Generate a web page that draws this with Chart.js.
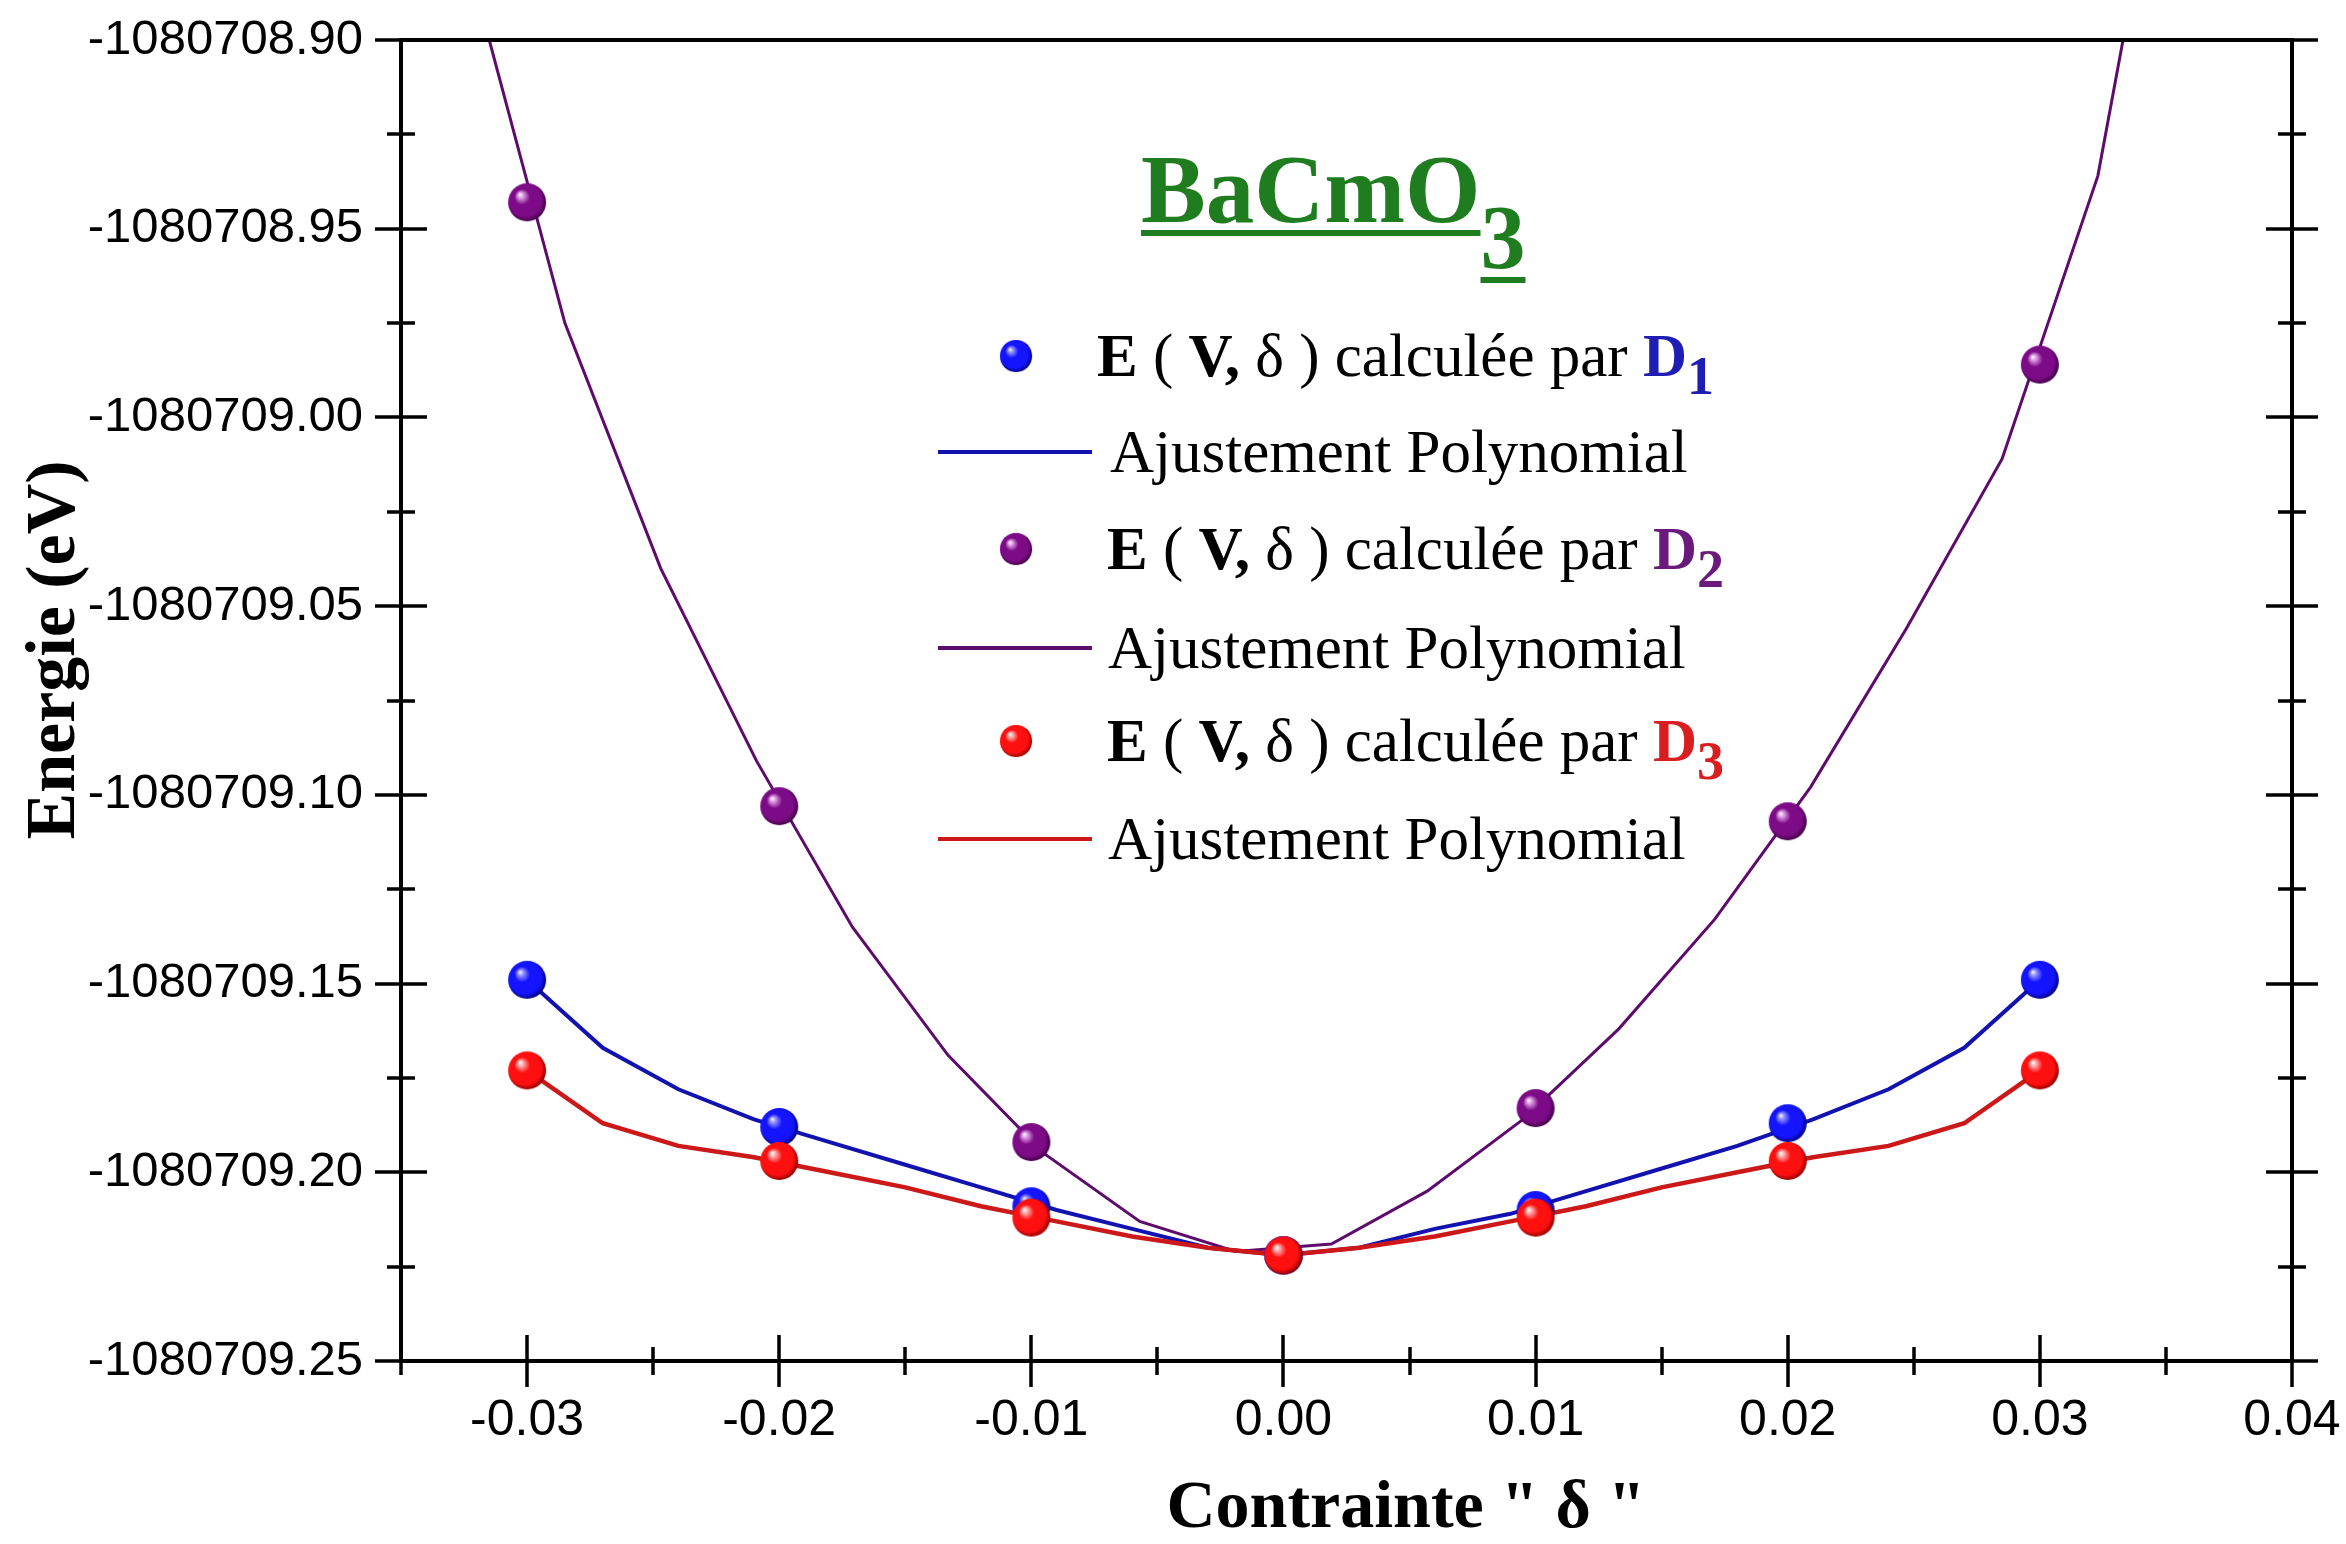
<!DOCTYPE html>
<html>
<head>
<meta charset="utf-8">
<script src="https://cdn.jsdelivr.net/npm/chart.js@4.4.0/dist/chart.umd.min.js"></script>
<style>
  html, body { margin: 0; padding: 0; background: #ffffff; }
  canvas { display: block; }
</style>
</head>
<body>
<canvas id="chart" width="2346" height="1544"></canvas>
<script>
// Strain values where the total energy was computed
const strain = [-0.03, -0.02, -0.01, 0.00, 0.01, 0.02, 0.03];

// Total energies (eV) for the three strain modes
const energyD1 = [-1080709.149, -1080709.188, -1080709.209, -1080709.222, -1080709.210, -1080709.187, -1080709.149];
const energyD2 = [-1080708.943, -1080709.103, -1080709.192, -1080709.222, -1080709.183, -1080709.107, -1080708.986];
const energyD3 = [-1080709.173, -1080709.197, -1080709.212, -1080709.222, -1080709.212, -1080709.197, -1080709.173];

// Polynomial fit curves, sampled
const fitStrainD1D3 = [-0.030, -0.027, -0.024, -0.021, -0.018, -0.015, -0.012, -0.009, -0.006, -0.003, 0.000,
                        0.003, 0.006, 0.009, 0.012, 0.015, 0.018, 0.021, 0.024, 0.027, 0.030];
const fitEnergyD1 = [-1080709.149, -1080709.167, -1080709.178, -1080709.186, -1080709.192, -1080709.198, -1080709.204,
                     -1080709.210, -1080709.215, -1080709.220, -1080709.222, -1080709.220, -1080709.215, -1080709.211,
                     -1080709.205, -1080709.199, -1080709.193, -1080709.186, -1080709.178, -1080709.167, -1080709.149];
const fitEnergyD3 = [-1080709.173, -1080709.187, -1080709.193, -1080709.196, -1080709.200, -1080709.204, -1080709.209,
                     -1080709.213, -1080709.217, -1080709.220, -1080709.222, -1080709.220, -1080709.217, -1080709.213,
                     -1080709.209, -1080709.204, -1080709.200, -1080709.196, -1080709.193, -1080709.187, -1080709.173];
const fitStrainD2 = [-0.0323, -0.0285, -0.0247, -0.0209, -0.0171, -0.0133, -0.0095, -0.0057, -0.0019,
                      0.0019, 0.0057, 0.0095, 0.0133, 0.0171, 0.0209, 0.0247, 0.0285, 0.0323, 0.0361];
const fitEnergyD2 = [-1080708.880, -1080708.975, -1080709.040, -1080709.091, -1080709.135, -1080709.169, -1080709.195,
                     -1080709.213, -1080709.221, -1080709.219, -1080709.205, -1080709.186, -1080709.162, -1080709.133,
                     -1080709.098, -1080709.056, -1080709.011, -1080708.936, -1080708.799];

// Axis ranges and tick steps
const xRange = [-0.035, 0.04];
const yRange = [-1080709.25, -1080708.90];
const xMajor = 0.01, xMinor = 0.005;
const yMajor = 0.05, yMinor = 0.025;

const SANS = '"Liberation Sans", Arial, sans-serif';
const SERIF = '"Liberation Serif", "Times New Roman", serif';

const COLORS = {
  d1: { base: '#1414ff', dark: '#00006e', light: '#9a9aff', line: '#1212b0', text: '#1e1eb4' },
  d2: { base: '#7d0a86', dark: '#3a003f', light: '#e0a0e6', line: '#5e0c6c', text: '#6a1a7c' },
  d3: { base: '#ff1010', dark: '#8a0000', light: '#ffb0b0', line: '#cc1818', text: '#d81e1e' }
};

function pairs(xs, ys) { return xs.map((x, i) => ({ x: x, y: ys[i] })); }

// Shaded ball marker
function makeSphere(c, r) {
  const size = 2 * r + 2;
  const cv = document.createElement('canvas');
  cv.width = size; cv.height = size;
  const g = cv.getContext('2d');
  const cx = size / 2, cy = size / 2;
  const grad = g.createRadialGradient(cx - 0.38 * r, cy - 0.42 * r, 0, cx - 0.05 * r, cy - 0.05 * r, r * 1.08);
  grad.addColorStop(0.0, '#ffffff');
  grad.addColorStop(0.13, c.light);
  grad.addColorStop(0.38, c.base);
  grad.addColorStop(0.8, c.base);
  grad.addColorStop(1.0, c.dark);
  g.fillStyle = grad;
  g.beginPath(); g.arc(cx, cy, r, 0, Math.PI * 2); g.fill();
  return cv;
}
const sphere = {
  d1: makeSphere(COLORS.d1, 19),
  d2: makeSphere(COLORS.d2, 19),
  d3: makeSphere(COLORS.d3, 19)
};

function isMultiple(v, step) {
  const q = v / step;
  return Math.abs(q - Math.round(q)) < 1e-4;
}

function drawRuns(ctx, x, baseline, runs) {
  let cx = x;
  for (const r of runs) {
    ctx.font = r.font;
    ctx.fillStyle = r.color || '#000';
    ctx.fillText(r.text, cx, baseline + (r.dy || 0));
    cx += ctx.measureText(r.text).width;
  }
  return cx;
}

// Frame, crossing tick marks, titles and the legend block
const decorPlugin = {
  id: 'decor',
  afterDatasetsDraw(chart) {
    const { ctx, chartArea: a, scales: { x, y } } = chart;
    ctx.save();
    ctx.strokeStyle = '#000';
    ctx.lineCap = 'butt';
    ctx.lineWidth = 4;
    ctx.strokeRect(a.left, a.top, a.right - a.left, a.bottom - a.top);
    ctx.lineWidth = 3.5;
    ctx.beginPath();
    const nx = Math.round((x.max - x.min) / xMinor);
    for (let k = 0; k <= nx; k++) {
      const v = x.min + k * xMinor;
      const len = isMultiple(v, xMajor) ? 26 : 14;
      const px = Math.round(x.getPixelForValue(v));
      ctx.moveTo(px, a.bottom - len); ctx.lineTo(px, a.bottom + len);
    }
    const ny = Math.round((y.max - y.min) / yMinor);
    for (let k = 0; k <= ny; k++) {
      const v = y.min + k * yMinor;
      const len = isMultiple(v, yMajor) ? 26 : 14;
      const py = Math.round(y.getPixelForValue(v));
      ctx.moveTo(a.left - len, py); ctx.lineTo(a.left + len, py);
      ctx.moveTo(a.right - len, py); ctx.lineTo(a.right + len, py);
    }
    ctx.stroke();
    ctx.restore();
  },
  afterDraw(chart) {
    const ctx = chart.ctx;
    ctx.save();
    ctx.textBaseline = 'alphabetic';
    ctx.textAlign = 'left';

    // Axis titles
    ctx.fillStyle = '#000';
    ctx.font = 'bold 68px ' + SERIF;
    ctx.textAlign = 'center';
    ctx.fillText('Contrainte " \u03b4 "', 1406, 1527);
    ctx.save();
    ctx.translate(74, 650);
    ctx.rotate(-Math.PI / 2);
    ctx.font = 'bold 70px ' + SERIF;
    ctx.fillText('Energie (eV)', 0, 0);
    ctx.restore();
    ctx.textAlign = 'left';

    // Compound name
    const green = '#1f7d1f';
    ctx.font = 'bold 97px ' + SERIF;
    const wBase = ctx.measureText('BaCmO').width;
    const tx = 1141;
    ctx.fillStyle = green;
    ctx.fillText('BaCmO', tx, 222);
    ctx.font = 'bold 90px ' + SERIF;
    const wSub = ctx.measureText('3').width;
    ctx.fillText('3', tx + wBase, 268);
    ctx.fillRect(tx, 230, wBase, 6);
    ctx.fillRect(tx + wBase, 277, wSub, 6);

    // Legend
    const fs = 61;
    const reg = fs + 'px ' + SERIF;
    const bold = 'bold ' + fs + 'px ' + SERIF;
    const subBold = 'bold 54px ' + SERIF;
    const rows = [
      { kind: 'dot', y: 356, key: 'd1', idx: '1', tx: 1097 },
      { kind: 'line', y: 452, key: 'd1', tx: 1110 },
      { kind: 'dot', y: 549, key: 'd2', idx: '2', tx: 1107 },
      { kind: 'line', y: 648, key: 'd2', tx: 1108 },
      { kind: 'dot', y: 741, key: 'd3', idx: '3', tx: 1107 },
      { kind: 'line', y: 839, key: 'd3', tx: 1108 }
    ];
    for (const r of rows) {
      const c = COLORS[r.key];
      const base = r.y + 20;
      if (r.kind === 'dot') {
        const s = sphere[r.key];
        ctx.drawImage(s, 1016 - 17, r.y - 17, 34, 34);
        drawRuns(ctx, r.tx, base, [
          { text: 'E', font: bold },
          { text: ' ( ', font: reg },
          { text: 'V,', font: bold },
          { text: ' \u03b4 ) calcul\u00e9e par ', font: reg },
          { text: 'D', font: bold, color: c.text },
          { text: r.idx, font: subBold, color: c.text, dy: 18 }
        ]);
      } else {
        ctx.strokeStyle = c.line;
        ctx.lineWidth = 4;
        ctx.beginPath();
        ctx.moveTo(938, r.y); ctx.lineTo(1092, r.y);
        ctx.stroke();
        drawRuns(ctx, r.tx, base, [{ text: 'Ajustement Polynomial', font: reg }]);
      }
    }
    ctx.restore();
  }
};

const pointSet = (data, key) => ({
  data: data,
  showLine: false,
  pointStyle: sphere[key],
  pointRadius: 19,
  pointHoverRadius: 19,
  backgroundColor: COLORS[key].base,
  borderColor: COLORS[key].base
});
const fitSet = (data, key, width) => ({
  data: data,
  showLine: true,
  pointRadius: 0,
  pointHoverRadius: 0,
  borderColor: COLORS[key].line,
  backgroundColor: COLORS[key].line,
  borderWidth: width,
  tension: 0,
  fill: false
});

new Chart(document.getElementById('chart'), {
  type: 'scatter',
  data: {
    datasets: [
      pointSet(pairs(strain, energyD3), 'd3'),
      pointSet(pairs(strain, energyD1), 'd1'),
      pointSet(pairs(strain, energyD2), 'd2'),
      fitSet(pairs(fitStrainD1D3, fitEnergyD3), 'd3', 4.5),
      fitSet(pairs(fitStrainD1D3, fitEnergyD1), 'd1', 4),
      fitSet(pairs(fitStrainD2, fitEnergyD2), 'd2', 3)
    ]
  },
  options: {
    responsive: false,
    animation: false,
    devicePixelRatio: 1,
    layout: { padding: { top: 40, right: 54, left: 0, bottom: 0 } },
    plugins: { legend: { display: false }, tooltip: { enabled: false } },
    scales: {
      x: {
        type: 'linear',
        min: xRange[0],
        max: xRange[1],
        grid: { display: false, drawTicks: false },
        border: { display: false },
        ticks: {
          stepSize: xMajor,
          includeBounds: false,
          autoSkip: false,
          maxRotation: 0,
          maxTicksLimit: 100,
          padding: 30,
          color: '#000',
          font: { family: SANS, size: 50 },
          callback: (v) => {
            if (!isMultiple(v, xMajor)) return '';
            const r = Math.round(v / xMajor) * xMajor;
            return (Math.abs(r) < 1e-9 ? 0 : r).toFixed(2);
          }
        },
        afterFit: (s) => { s.height = 183; s.paddingLeft = 0; s.paddingRight = 0; }
      },
      y: {
        type: 'linear',
        min: yRange[0],
        max: yRange[1],
        grid: { display: false, drawTicks: false },
        border: { display: false },
        ticks: {
          stepSize: yMajor,
          autoSkip: false,
          maxTicksLimit: 100,
          padding: 38,
          color: '#000',
          font: { family: SANS, size: 49 },
          callback: (v) => Number(v).toFixed(2)
        },
        afterFit: (s) => { s.width = 401; s.paddingTop = 0; s.paddingBottom = 0; }
      }
    }
  },
  plugins: [decorPlugin]
});
</script>
</body>
</html>
